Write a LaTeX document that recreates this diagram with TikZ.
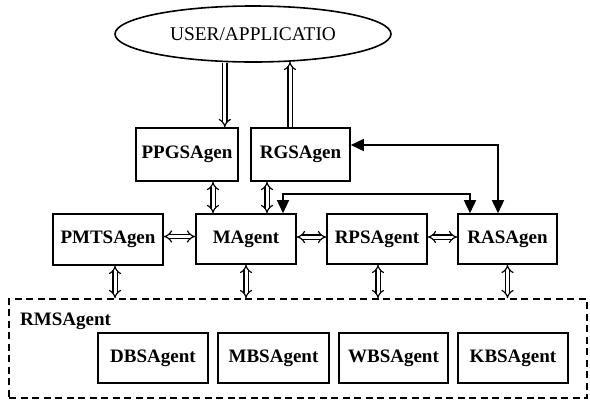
\documentclass[tikz,border=0pt]{standalone}
\usepackage{fontspec}
\setmainfont{Liberation Serif}
\usetikzlibrary{arrows.meta,shapes.geometric,calc}
\begin{document}
\begin{tikzpicture}[x=1pt,y=-1pt,
  lbl/.style={font=\fontsize{19}{21}\selectfont\bfseries},
  box/.style={draw, line width=1.6pt, rectangle, inner sep=0pt, minimum height=50pt, lbl},
  dbl/.style={double, double distance=3pt, line width=1.2pt, {Implies}-{Implies}},
  dblone/.style={double, double distance=3pt, line width=1.2pt, -{Implies}},
  sol/.style={line width=1.5pt, {Triangle[length=13pt,width=12pt]}-{Triangle[length=13pt,width=12pt]}},
  dashbox/.style={draw, line width=1.6pt, dash pattern=on 7pt off 4.5pt, rectangle, inner sep=0pt}
]
\useasboundingbox (0,0) rectangle (590,400);

% top ellipse
\node[ellipse, draw, line width=1.6pt, minimum width=276pt, minimum height=56pt, inner sep=0pt, font=\fontsize{19.4}{21}\selectfont] (user) at (253,34) {USER/APPLICATIO};

% first row
\node[box, minimum width=102pt, minimum height=53pt] (ppgs) at (187,154.5) {PPGSAgen};
\node[box, minimum width=99pt, minimum height=53pt] (rgs) at (300.5,154.5) {RGSAgen};

% second row
\node[box, minimum width=110pt, minimum height=51pt] (pmts) at (108,239.5) {PMTSAgen};
\node[box, minimum width=100pt] (magent) at (246,239) {MAgent};
\node[box, minimum width=100pt] (rps) at (377,239) {RPSAgent};
\node[box, minimum width=99pt] (ras) at (507.5,239) {RASAgen};

% RMS container
\node[dashbox, minimum width=578pt, minimum height=99pt] (rms) at (298,348.5) {};
\node[lbl, anchor=west, inner sep=0pt] (rmslbl) at (20,321) {RMSAgent};
\node[box, minimum width=110pt] (dbs) at (153,358) {DBSAgent};
\node[box, minimum width=111pt] (mbs) at (273.5,358) {MBSAgent};
\node[box, minimum width=109pt] (wbs) at (393.5,358) {WBSAgent};
\node[box, minimum width=110pt] (kbs) at (513,358) {KBSAgent};

% user <-> first row
\coordinate (u1) at ([xshift=-14pt]ppgs.north east);
\coordinate (u2) at ([xshift=-10.5pt]rgs.north);
\draw[dblone] (u1 |- user.south) -- (u1);
\draw[dblone] (u2) -- ([yshift=1pt]u2 |- user.south);

% first row <-> MAgent
\coordinate (v1) at (213,0);
\coordinate (v2) at (267,0);
\draw[dbl] (v1 |- ppgs.south) -- (v1 |- magent.north);
\draw[dbl] (v2 |- rgs.south) -- (v2 |- magent.north);

% solid arrows to RASAgen
\coordinate (r1) at ([xshift=-9.5pt]ras.north);
\coordinate (r2) at ([xshift=-37.5pt]ras.north);
\draw[sol] ([yshift=9.5pt]rgs.east) -| (r1);
\draw[sol] ([xshift=37pt]magent.north) -- ++(0,-19) -| (r2);

% horizontal double arrows
\draw[dbl] ([yshift=3pt]pmts.east) -- ([yshift=3pt]pmts.east -| magent.west);
\draw[dbl] ([yshift=2pt]magent.east) -- ([yshift=2pt]magent.east -| rps.west);
\draw[dbl] ([yshift=2pt]rps.east) -- ([yshift=2pt]rps.east -| ras.west);

% second row <-> RMS
\draw[dbl] ([xshift=7pt]pmts.south) -- ([xshift=7pt]pmts.south |- rms.north);
\draw[dbl] (magent.south) -- (magent.south |- rms.north);
\draw[dbl] ([xshift=1pt]rps.south) -- ([xshift=1pt]rps.south |- rms.north);
\draw[dbl] (ras.south) -- (ras.south |- rms.north);
\end{tikzpicture}
\end{document}
